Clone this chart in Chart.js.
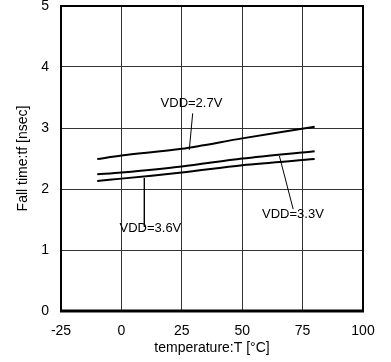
<!DOCTYPE html>
<html>
<head>
<meta charset="utf-8">
<script src="https://cdn.jsdelivr.net/npm/chart.js@4/dist/chart.umd.min.js"></script>
<style>
  html, body { margin: 0; padding: 0; background: #fff; }
  #wrap { width: 391px; height: 362px; }
</style>
</head>
<body>
<div id="wrap"><canvas id="myChart" width="391" height="362"></canvas></div>
<script>
"use strict";

// temperature points (degC)
const temps = [-10, 0, 25, 50, 80];

// fall time [nsec] per supply voltage
const vdd27 = [2.49, 2.55, 2.66, 2.83, 3.02];
const vdd33 = [2.24, 2.27, 2.37, 2.50, 2.62];
const vdd36 = [2.13, 2.17, 2.27, 2.39, 2.49];

// leader lines: [x1, y1, x2, y2] and label text
const labelNames = ["VDD=2.7V", "VDD=3.3V", "VDD=3.6V"];
const leaders = [
  [29.5, 3.24, 28.1, 2.64],
  [65.4, 2.54, 71.1, 1.67],
  [9.5, 2.18, 9.5, 1.38],
];
const labelPos = [
  [29, 3.4],
  [71, 1.59],
  [12, 1.35],
];

const xTicks = [-25, 0, 25, 50, 75, 100];
const yTicks = [0, 1, 2, 3, 4, 5];

const FONT = "'Liberation Sans', Arial, sans-serif";

function toPoints(xs, ys) {
  return xs.map((x, i) => ({ x: x, y: ys[i] }));
}

const curveSets = [vdd27, vdd33, vdd36].map((ys, i) => ({
  label: labelNames[i],
  data: toPoints(temps, ys),
  borderColor: "#000",
  borderWidth: 2,
  pointRadius: 0,
  tension: 0.3,
  fill: false,
}));

const leaderSets = leaders.map((l, i) => ({
  label: "leader " + i,
  data: [{ x: l[0], y: l[1] }, { x: l[2], y: l[3] }],
  borderColor: "#000",
  borderWidth: 1,
  pointRadius: 0,
  fill: false,
}));

// draw the VDD labels at data coords
const labelPlugin = {
  id: "vddLabels",
  afterDatasetsDraw(chart) {
    const ctx = chart.ctx;
    const xs = chart.scales.x;
    const ys = chart.scales.y;
    ctx.save();
    ctx.font = "13px " + FONT;
    ctx.fillStyle = "#000";
    ctx.textAlign = "center";
    ctx.textBaseline = "middle";
    labelNames.forEach((name, i) => {
      ctx.fillText(name, xs.getPixelForValue(labelPos[i][0]), ys.getPixelForValue(labelPos[i][1]));
    });
    ctx.restore();
  },
};

// border box around plot
const framePlugin = {
  id: "frame",
  afterDatasetsDraw(chart) {
    const a = chart.chartArea;
    const ctx = chart.ctx;
    ctx.save();
    ctx.strokeStyle = "#000";
    ctx.lineWidth = 2;
    ctx.strokeRect(a.left, a.top, a.right - a.left, a.bottom - a.top);
    ctx.lineWidth = 3;
    ctx.beginPath();
    ctx.moveTo(a.left - 1, a.bottom);
    ctx.lineTo(a.right + 1, a.bottom);
    ctx.stroke();
    ctx.restore();
  },
};

const ctx = document.getElementById("myChart").getContext("2d");
const myChart = new Chart(ctx, {
  type: "line",
  data: { datasets: curveSets.concat(leaderSets) },
  options: {
    responsive: false,
    animation: false,
    layout: { padding: { top: 6, right: 28, left: 0, bottom: 0 } },
    plugins: {
      legend: { display: false },
      tooltip: { enabled: false },
    },
    scales: {
      x: {
        type: "linear",
        min: -25,
        max: 100,
        afterBuildTicks(scale) {
          scale.ticks = xTicks.map((v) => ({ value: v }));
        },
        afterFit(scale) {
          scale.height = 51;
          scale.paddingLeft = 0;
          scale.paddingRight = 0;
        },
        grid: { color: "#333", lineWidth: 1, drawTicks: false },
        border: { display: false },
        ticks: {
          padding: 12,
          color: "#000",
          font: { family: FONT, size: 14 },
          maxRotation: 0,
        },
        title: {
          display: true,
          text: "temperature:T [\u00b0C]",
          color: "#000",
          font: { family: FONT, size: 14 },
          padding: { top: 0, bottom: 5 },
        },
      },
      y: {
        min: 0,
        max: 5,
        afterBuildTicks(scale) {
          scale.ticks = yTicks.map((v) => ({ value: v }));
        },
        afterFit(scale) {
          scale.width = 61;
          scale.paddingTop = 0;
          scale.paddingBottom = 0;
        },
        grid: { color: "#333", lineWidth: 1, drawTicks: false },
        border: { display: false },
        ticks: {
          padding: 12,
          color: "#000",
          font: { family: FONT, size: 14 },
        },
        title: {
          display: true,
          text: "Fall time:tf [nsec]",
          color: "#000",
          font: { family: FONT, size: 14 },
          padding: { top: 15, bottom: 0 },
        },
      },
    },
  },
  plugins: [framePlugin, labelPlugin],
});
</script>
</body>
</html>
